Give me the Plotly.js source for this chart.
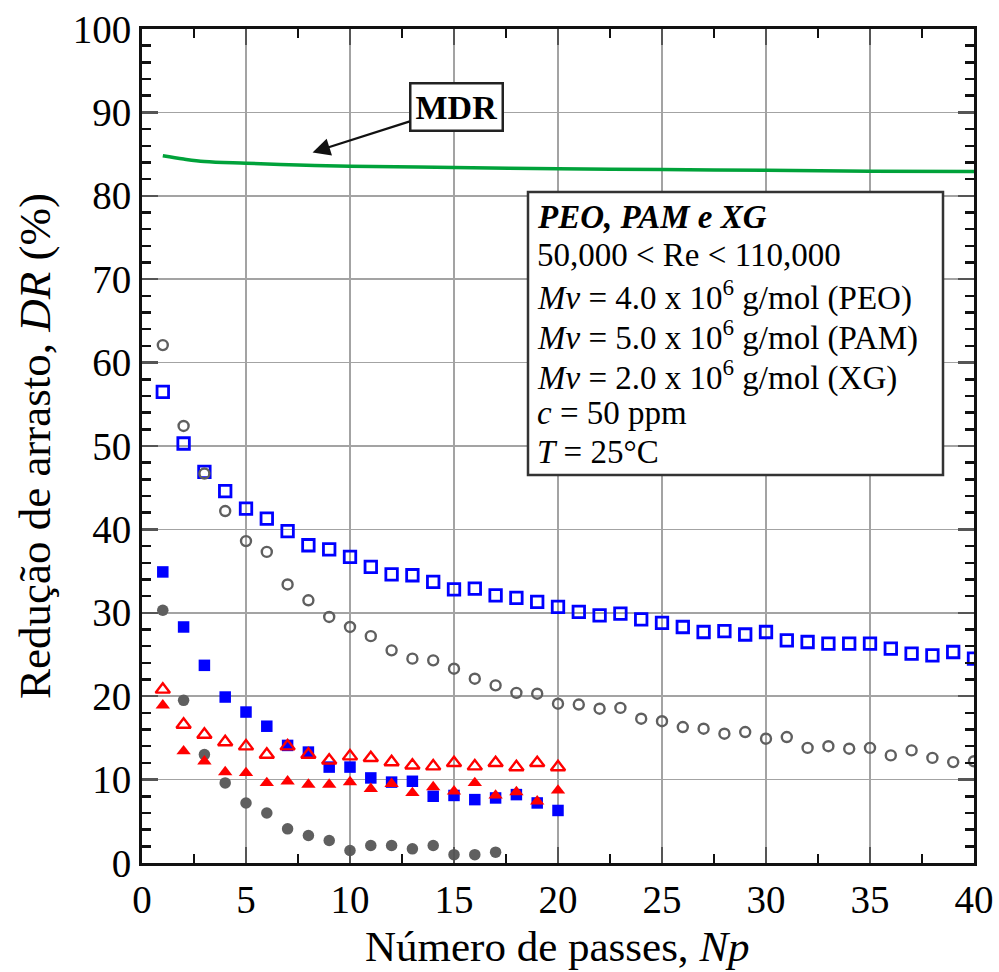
<!DOCTYPE html>
<html>
<head>
<meta charset="utf-8">
<script src="https://cdn.plot.ly/plotly-3.0.1.min.js"></script>
<style>
html,body{margin:0;padding:0;background:#fff;}
#chart{width:999px;height:972px;}
</style>
</head>
<body>
<div id="chart"></div>
<script>
// ---- data ----
const passes40 = [1,2,3,4,5,6,7,8,9,10,11,12,13,14,15,16,17,18,19,20,21,22,23,24,25,26,27,28,29,30,31,32,33,34,35,36,37,38,39,40];
const passes20 = [1,2,3,4,5,6,7,8,9,10,11,12,13,14,15,16,17,18,19,20];
const passes17 = [1,2,3,4,5,6,7,8,9,10,11,12,13,14,15,16,17];

const openSquareDR = [56.5,50.3,46.9,44.6,42.5,41.3,39.8,38.1,37.6,36.7,35.5,34.6,34.5,33.7,32.8,32.9,32.1,31.8,31.3,30.7,30.1,29.7,29.9,29.2,28.8,28.3,27.7,27.8,27.4,27.7,26.7,26.5,26.3,26.3,26.3,25.7,25.1,24.9,25.3,24.5];
const openCircleDR = [62.1,52.4,46.7,42.2,38.6,37.3,33.4,31.5,29.5,28.3,27.2,25.5,24.5,24.3,23.3,22.1,21.3,20.4,20.3,19.1,19.0,18.5,18.6,17.3,17.0,16.3,16.1,15.5,15.7,14.9,15.1,13.8,14.0,13.7,13.8,12.9,13.5,12.6,12.1,12.2];
const filledCircleDR = [30.3,19.5,13.0,9.6,7.2,6.0,4.1,3.3,2.7,1.5,2.1,2.1,1.7,2.1,1.0,1.0,1.3];
const filledSquareDR = [34.9,28.3,23.7,19.9,18.1,16.4,14.1,13.3,11.5,11.5,10.2,9.7,9.8,8.0,8.1,7.6,7.8,8.2,7.2,6.3];
const openTriangleDR = [20.8,16.6,15.4,14.5,14.0,13.0,14.0,13.0,12.3,12.8,12.6,12.1,11.7,11.6,12.0,11.6,12.0,11.5,12.0,11.5];
const filledTriangleDR = [18.9,13.4,12.2,10.9,10.8,9.6,9.8,9.4,9.4,9.7,8.9,9.5,8.4,9.1,8.6,9.6,8.1,8.5,7.4,8.7];

const mdrNp = [1,2,3,5,7.5,10,15,20,25,30,35,40];
const mdrDR = [84.8,84.4,84.1,83.9,83.7,83.55,83.4,83.25,83.15,83.05,82.95,82.9];

const xTickVals = [0,5,10,15,20,25,30,35,40];
const yTickVals = [0,10,20,30,40,50,60,70,80,90,100];

const xTitle = 'Número de passes, <i>Np</i>';
const yTitle = 'Redução de arrasto, <i>DR</i> (%)';
const infoLines = [
  '<b><i>PEO, PAM e XG</i></b>',
  '50,000 &lt; Re &lt; 110,000',
  '<i>Mv</i> = 4.0 x 10<sup>6</sup> g/mol (PEO)',
  '<i>Mv</i> = 5.0 x 10<sup>6</sup> g/mol (PAM)',
  '<i>Mv</i> = 2.0 x 10<sup>6</sup> g/mol (XG)',
  '<i>c</i> = 50 ppm',
  '<i>T</i> = 25°C'
];
const mdrLabel = '<b>MDR</b>';
const mdrArrowHead = [8.2, 85.2];
const mdrLabelPos = [15.1, 90.7];

// ---- styling ----
const FONT = 'Liberation Serif, Times New Roman, serif';
const GREY = '#5f5f5f';
const BLUE = '#0000ff';
const RED = '#ff0000';

const traces = [
  {x: mdrNp, y: mdrDR, mode:'lines', line:{color:'#00a23a', width:3.5, shape:'spline'}},
  {x: passes40, y: openSquareDR, mode:'markers',
   marker:{symbol:'square-open', size:11.5, color:BLUE, line:{width:2.8, color:BLUE}}},
  {x: passes40, y: openCircleDR, mode:'markers',
   marker:{symbol:'circle-open', size:10, color:GREY, line:{width:2.4, color:GREY}}},
  {x: passes17, y: filledCircleDR, mode:'markers',
   marker:{symbol:'circle', size:11.5, color:GREY}},
  {x: passes20, y: filledSquareDR, mode:'markers',
   marker:{symbol:'square', size:11.5, color:BLUE}},
  {x: passes20, y: openTriangleDR, mode:'markers',
   marker:{symbol:'triangle-up-open', size:12.5, color:RED, line:{width:2.4, color:RED}}},
  {x: passes20, y: filledTriangleDR, mode:'markers',
   marker:{symbol:'triangle-up', size:12.5, color:RED}}
];

const L = 142, R = 25, T = 29, B = 109;
const W = 999, H = 972;
const pw = W - L - R, ph = H - T - B;
const px2paperX = p => (p - L) / pw;
const py2paperY = p => (H - B - p) / ph;

const lineYs = [217, 255, 295, 335, 375, 413, 452];
const annotations = infoLines.map((t, i) => ({
  xref:'paper', yref:'paper', x: px2paperX(535), y: py2paperY(lineYs[i]),
  xanchor:'left', yanchor:'middle', showarrow:false, align:'left',
  text:t, font:{family:FONT, size:33, color:'#000'}
}));
annotations.push({
  xref:'x', yref:'y', x: mdrArrowHead[0], y: mdrArrowHead[1],
  axref:'x', ayref:'y', ax: mdrLabelPos[0], ay: mdrLabelPos[1],
  text: mdrLabel, showarrow:true, arrowhead:2, arrowsize:1.6, arrowwidth:2.2, arrowcolor:'#111',
  font:{family:FONT, size:34, color:'#000'}, bgcolor:'#fff', bordercolor:'#222', borderwidth:2.5, borderpad:4
});
annotations.push({
  xref:'paper', yref:'paper', x: px2paperX(557), y: py2paperY(971),
  xanchor:'center', yanchor:'bottom', showarrow:false, borderpad:0,
  text: xTitle, font:{family:FONT, size:43, color:'#000'}
});

const axisCommon = {
  showline:true, linecolor:'#111', linewidth:3, mirror:'allticks',
  ticks:'inside', ticklen:16, tickwidth:2.5, tickcolor:'#555',
  showgrid:true, gridcolor:'#a3a3a3', gridwidth:1.6, zeroline:false,
  tickfont:{family:FONT, size:39, color:'#000'}
};

const layout = {
  width:W, height:H, margin:{l:L, r:R, t:T, b:B},
  paper_bgcolor:'#fff', plot_bgcolor:'#fff', showlegend:false, hovermode:false,
  xaxis: Object.assign({}, axisCommon, {
    range:[0,40], tickvals:xTickVals,
    minor:{dtick:2.5, ticks:'inside', ticklen:9, tickwidth:2.5, tickcolor:'#111', showgrid:false}
  }),
  yaxis: Object.assign({}, axisCommon, {
    range:[0,100], tickvals:yTickVals,
    minor:{dtick:2, ticks:'inside', ticklen:9, tickwidth:2.5, tickcolor:'#111', showgrid:false},
    title:{text: yTitle, font:{family:FONT, size:45, color:'#000'}, standoff:8}
  }),
  shapes:[{type:'rect', xref:'paper', yref:'paper',
    x0:px2paperX(528), x1:px2paperX(943), y0:py2paperY(475), y1:py2paperY(192),
    line:{color:'#333', width:2.5}, fillcolor:'#fff', layer:'above'}],
  annotations: annotations
};

Plotly.newPlot('chart', traces, layout, {staticPlot:true, displayModeBar:false});
</script>
</body>
</html>
